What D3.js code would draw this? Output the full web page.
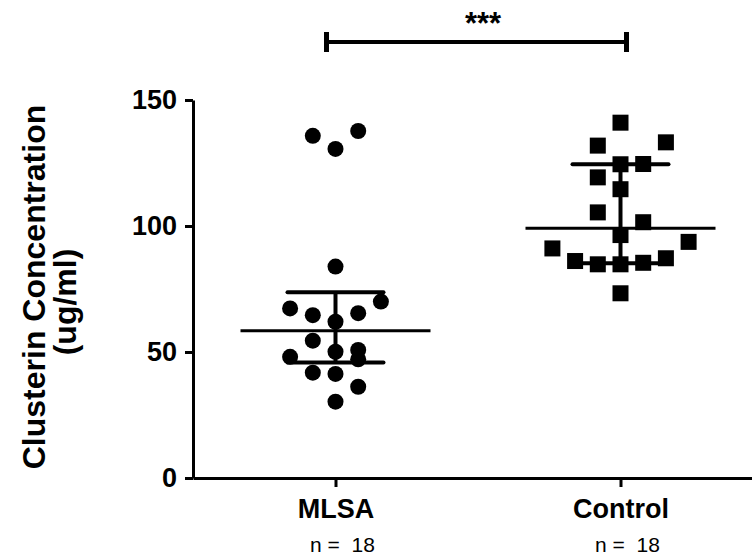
<!DOCTYPE html>
<html>
<head>
<meta charset="utf-8">
<script src="https://cdn.jsdelivr.net/npm/d3@7"></script>
<style>
  body { margin: 0; background: #fff; }
  text { font-family: Arial, "Liberation Sans", sans-serif; fill: #000; }
</style>
</head>
<body>
<svg id="chart" width="752" height="556"></svg>
<script>
// data
const groups = ["MLSA", "Control"];
const groupN = ["n =  18", "n =  18"];

const mlsaValues = [135.8, 137.7, 130.6, 83.9, 70.0, 67.3, 64.6, 65.4, 62.0,
                    54.5, 50.1, 50.8, 48.1, 47.1, 41.8, 41.3, 36.2, 30.3];
// column of each dot in the scatter (0 = centre)
const mlsaSlots = [-1, 1, 0, 0, 2, -2, -1, 1, 0, -1, 0, 1, -2, 1, -1, 0, 1, 0];

const controlValues = [141.0, 131.9, 133.2, 124.5, 124.6, 119.3, 114.6, 105.4, 101.5,
                       96.4, 93.7, 91.1, 86.1, 84.8, 84.8, 85.4, 87.2, 73.3];
const controlSlots = [0, -1, 2, 0, 1, -1, 0, -1, 1, 0, 3, -3, -2, -1, 0, 1, 2, 0];

const medians = [58.4, 99.1];
const lowerQuartiles = [45.8, 85.2];
const upperQuartiles = [73.7, 124.5];

const yTicks = [0, 50, 100, 150];
const sigLabel = "***";

const svg = d3.select("#chart");

const y = d3.scaleLinear().domain([0, 150]).range([478, 100]);
const x = d3.scalePoint().domain(groups).range([193, 763]).padding(0.5);
const slot = d3.scaleLinear().domain([0, 1]).range([0, 22.7]);

const points = [];
mlsaValues.forEach((v, i) => points.push({group: "MLSA", value: v, slot: mlsaSlots[i]}));
controlValues.forEach((v, i) => points.push({group: "Control", value: v, slot: controlSlots[i]}));

// axes
const yAxis = svg.append("g")
    .attr("transform", "translate(193,0)")
    .call(d3.axisLeft(y).tickValues(yTicks).tickSize(8).tickSizeOuter(0).tickPadding(8));
yAxis.select(".domain").attr("stroke-width", 3);
yAxis.selectAll(".tick line").attr("stroke-width", 3);
yAxis.selectAll(".tick text")
    .style("font-size", "27px").style("font-weight", "bold")
    .attr("font-family", null);

const xAxis = svg.append("g")
    .attr("transform", "translate(0,478)")
    .call(d3.axisBottom(x).tickSize(9).tickSizeOuter(0).tickPadding(12));
xAxis.select(".domain").attr("stroke-width", 3);
xAxis.selectAll(".tick line").attr("stroke-width", 3);
xAxis.selectAll(".tick text")
    .style("font-size", "27px").style("font-weight", "bold")
    .attr("font-family", null);

// n labels
svg.append("g")
  .selectAll("text")
  .data(groups)
  .join("text")
    .attr("x", d => x(d) + 7)
    .attr("y", 552)
    .attr("text-anchor", "middle")
    .style("white-space", "pre")
    .style("font-size", "21px")
    .text((d, i) => groupN[i]);

// y title
const title = svg.append("g");
title.append("text")
    .attr("transform", "translate(45,287) rotate(-90)")
    .attr("text-anchor", "middle")
    .style("font-size", "32px").style("font-weight", "bold")
    .text("Clusterin Concentration");
title.append("text")
    .attr("transform", "translate(76,302) rotate(-90)")
    .attr("text-anchor", "middle")
    .style("font-size", "32px").style("font-weight", "bold")
    .text("(ug/ml)");

// dots
svg.append("g")
  .selectAll("circle")
  .data(points.filter(d => d.group === "MLSA"))
  .join("circle")
    .attr("cx", d => x(d.group) + slot(d.slot))
    .attr("cy", d => y(d.value))
    .attr("r", 8)
    .attr("fill", "#000");

svg.append("g")
  .selectAll("rect")
  .data(points.filter(d => d.group === "Control"))
  .join("rect")
    .attr("x", d => x(d.group) + slot(d.slot) - 8)
    .attr("y", d => y(d.value) - 8)
    .attr("width", 16)
    .attr("height", 16)
    .attr("fill", "#000");

// median + interquartile bars
const stats = svg.append("g").attr("stroke", "#000");
stats.selectAll(".med")
  .data(groups)
  .join("line")
    .attr("x1", d => x(d) - 95).attr("x2", d => x(d) + 95)
    .attr("y1", (d, i) => y(medians[i])).attr("y2", (d, i) => y(medians[i]))
    .attr("stroke-width", 3);
stats.selectAll(".stem")
  .data(groups)
  .join("line")
    .attr("x1", d => x(d)).attr("x2", d => x(d))
    .attr("y1", (d, i) => y(lowerQuartiles[i])).attr("y2", (d, i) => y(upperQuartiles[i]))
    .attr("stroke-width", 4);
["lo", "hi"].forEach(k => {
  const arr = k === "lo" ? lowerQuartiles : upperQuartiles;
  stats.append("g").selectAll("line")
    .data(groups)
    .join("line")
      .attr("x1", d => x(d) - 48).attr("x2", d => x(d) + 48)
      .attr("y1", (d, i) => y(arr[i])).attr("y2", (d, i) => y(arr[i]))
      .attr("stroke-width", 4)
      .attr("stroke-linecap", "round");
});

// significance bracket
const bx0 = x("MLSA") - 9, bx1 = x("Control") + 6, by = 42;
const br = svg.append("g").attr("stroke", "#000");
br.append("line").attr("x1", bx0).attr("x2", bx1).attr("y1", by).attr("y2", by).attr("stroke-width", 4);
br.append("line").attr("x1", bx0).attr("x2", bx0).attr("y1", by - 10).attr("y2", by + 10).attr("stroke-width", 5);
br.append("line").attr("x1", bx1).attr("x2", bx1).attr("y1", by - 10).attr("y2", by + 10).attr("stroke-width", 5);
svg.append("text")
    .attr("x", 483)
    .attr("y", 34)
    .attr("text-anchor", "middle")
    .style("font-size", "31px")
    .style("font-weight", "bold")
    .text(sigLabel);
</script>
</body>
</html>
